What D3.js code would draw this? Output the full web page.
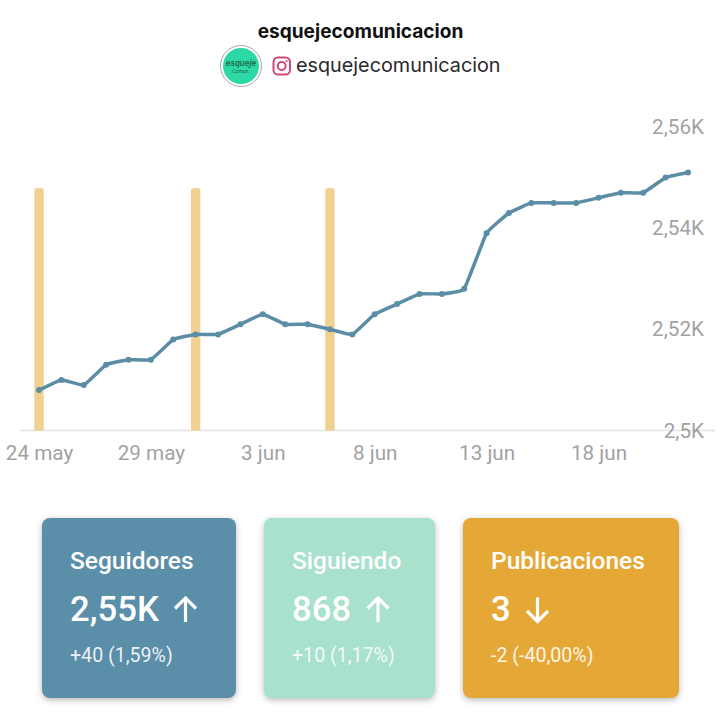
<!DOCTYPE html>
<html><head><meta charset="utf-8">
<script src="https://cdn.jsdelivr.net/npm/d3@7"></script>
<style>
html,body{margin:0;padding:0;background:#fff}
svg{display:block;font-family:Roboto,sans-serif}
.axis path,.axis line{display:none}
.axis text{font-family:Roboto,sans-serif;font-size:20.7px;fill:#a2a2a2}
</style></head><body>
<svg id="c" width="718" height="719"></svg>
<script>
const account = "esquejecomunicacion";
const followers = [2508,2510,2509,2513,2514,2514,2518,2519,2519,2521,2523,2521,2521,2520,2519,2523,2525,2527,2527,2528,2539,2543,2545,2545,2545,2546,2547,2547,2550,2551];
const postDayIndex = [0,7,13];
const postCounts = [1,1,1];
const xTickIndex = [0,5,10,15,20,25];
const xTickLabels = ["24 may","29 may","3 jun","8 jun","13 jun","18 jun"];
const yTicks = [2500,2520,2540,2560];
const yTickLabels = ["2,5K","2,52K","2,54K","2,56K"];
const cardTitles = ["Seguidores","Siguiendo","Publicaciones"];
const cardValues = ["2,55K","868","3"];
const cardDeltas = ["+40 (1,59%)","+10 (1,17%)","-2 (-40,00%)"];
const cardDirections = ["up","up","down"];
const cardColors = ["#5b8ea9","#a8e1cc","#e5a836"];

const svg = d3.select("#c");
const x = d3.scaleLinear().domain([0,29]).range([39,688]);
const y = d3.scaleLinear().domain([2500,2560]).range([430.5,127]);
const yPosts = d3.scaleLinear().domain([0,1]).range([430.5,188]);

// Header
svg.append("text").attr("x",360.5).attr("y",38).attr("text-anchor","middle")
  .attr("font-size",19.1).attr("font-weight",700).attr("font-family","Inter,Roboto,sans-serif").attr("fill","#111").text(account);
svg.append("circle").attr("cx",241).attr("cy",66).attr("r",20.5).attr("fill","#fff").attr("stroke","#a8a8a8").attr("stroke-width",1);
svg.append("circle").attr("cx",241).attr("cy",66).attr("r",18).attr("fill","#2ed8a6");
svg.append("text").attr("x",241).attr("y",66).attr("text-anchor","middle").attr("font-size",9).attr("font-style","italic").attr("font-weight",500).attr("fill","#1c6a42").text("esqueje");
svg.append("text").attr("x",241).attr("y",73).attr("text-anchor","middle").attr("font-size",5).attr("fill","#1c6a42").text("Comun.");
const ig = svg.append("g").attr("fill","none").attr("stroke","#d0487a").attr("stroke-width",2);
ig.append("rect").attr("x",273.5).attr("y",57.5).attr("width",16.5).attr("height",17).attr("rx",4.5);
ig.append("circle").attr("cx",281.7).attr("cy",66).attr("r",4);
svg.append("circle").attr("cx",286.6).attr("cy",61).attr("r",1.1).attr("fill","#d0487a");
svg.append("text").attr("x",296).attr("y",72).attr("font-size",19.8).attr("font-family","Inter,Roboto,sans-serif").attr("fill","#2a2a2a").text(account);

// Baseline
svg.append("line").attr("x1",20).attr("x2",715).attr("y1",y(2500)).attr("y2",y(2500)).attr("stroke","#e3e3e3").attr("stroke-width",1.5);

// Post bars
svg.append("g").selectAll("path").data(postDayIndex).join("path")
  .attr("fill","#f1d192")
  .attr("d",(d,i)=>{
    const l=x(d)-4.7,w=9.4,t=yPosts(postCounts[i]),b=y(2500),r=2.5;
    return `M${l},${b}V${t+r}Q${l},${t} ${l+r},${t}H${l+w-r}Q${l+w},${t} ${l+w},${t+r}V${b}Z`;
  });

// Line
const line = d3.line().x((d,i)=>x(i)).y(d=>y(d)).curve(d3.curveCardinal.tension(0.7));
svg.append("path").datum(followers).attr("d",line).attr("fill","none").attr("stroke","#5b8ea6").attr("stroke-width",3.5);
svg.append("g").selectAll("circle").data(followers).join("circle")
  .attr("cx",(d,i)=>x(i)).attr("cy",d=>y(d)).attr("r",3).attr("fill","#5b8ea6");

// Axes
svg.append("g").attr("class","axis").attr("transform","translate(0,446)")
  .call(d3.axisBottom(x).tickValues(xTickIndex).tickSize(0).tickPadding(0).tickFormat((d,i)=>xTickLabels[i]))
  .call(g=>g.selectAll("text").attr("dy","0").attr("y",14));
svg.append("g").attr("class","axis").attr("transform","translate(704,0)")
  .call(d3.axisLeft(y).tickValues(yTicks).tickSize(0).tickPadding(0).tickFormat((d,i)=>yTickLabels[i]));

// Cards
const cardX = d3.scaleOrdinal().domain(cardTitles).range([42,264,463]);
const cardW = d3.scaleOrdinal().domain(cardTitles).range([194,171,216]);
const arrowX = d3.scaleOrdinal().domain(cardTitles).range([185.5,378,537.5]);
const cards = svg.append("g").selectAll("g").data(cardTitles).join("g")
  .attr("transform",d=>`translate(${cardX(d)},518)`);
cards.append("rect").attr("width",d=>cardW(d)).attr("height",180).attr("rx",8)
  .attr("fill",(d,i)=>cardColors[i]).style("filter","drop-shadow(0 2px 3px rgba(0,0,0,.28))");
cards.append("text").attr("x",28).attr("y",51).attr("font-size",24.5).attr("font-weight",500).attr("fill","#fff").text(d=>d);
cards.append("text").attr("x",28).attr("y",103).attr("font-size",34.7).attr("font-weight",500).attr("fill","#fff").text((d,i)=>cardValues[i]);
cards.append("text").attr("x",28).attr("y",144).attr("font-size",19.6).attr("fill","#fff").attr("fill-opacity",.9).text((d,i)=>cardDeltas[i]);
cards.append("path").attr("fill","none").attr("stroke","#fff").attr("stroke-width",3.2)
  .attr("d",(d,i)=>{
    const ax=arrowX(d)-cardX(d), t=79.5, b=104;
    return cardDirections[i]==="up"
      ? `M${ax},${b}V${t}M${ax-10.5},${t+11}L${ax},${t+0.5}L${ax+10.5},${t+11}`
      : `M${ax},${t}V${b}M${ax-10.5},${b-11}L${ax},${b-0.5}L${ax+10.5},${b-11}`;
  });
</script>
</body></html>
